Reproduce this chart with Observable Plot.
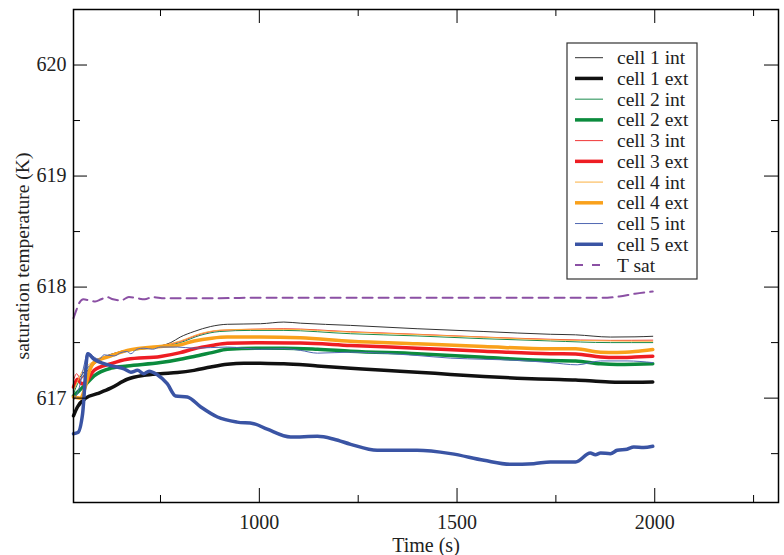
<!DOCTYPE html>
<html><head><meta charset="utf-8">
<script src="https://cdn.jsdelivr.net/npm/d3@7"></script>
<script src="https://cdn.jsdelivr.net/npm/@observablehq/plot@0.6"></script>
<style>body{margin:0;background:#fff}</style>
</head><body><div id="chart"></div>
<script>
const seriesNames = ["cell 1 int","cell 1 ext","cell 2 int","cell 2 ext","cell 3 int","cell 3 ext","cell 4 int","cell 4 ext","cell 5 int","cell 5 ext","T sat"];

const cell1Int = [[530,617.10],[545,617.18],[560,617.25],[580,617.32],[600,617.36],[650,617.42],[700,617.45],[750,617.47],[776,617.50],[800,617.55],[835,617.60],[877,617.645],[919,617.665],[1003,617.67],[1062,617.685],[1104,617.675],[1231,617.655],[1399,617.625],[1568,617.60],[1736,617.575],[1800,617.57],[1888,617.55],[1950,617.552],[1995,617.557]];
const cell1Ext = [[530,616.84],[540,616.92],[561,617.00],[590,617.04],[624,617.09],[666,617.17],[708,617.205],[750,617.22],[793,617.23],[835,617.25],[877,617.28],[919,617.305],[961,617.315],[1003,617.313],[1062,617.31],[1147,617.29],[1231,617.27],[1315,617.25],[1399,617.234],[1484,617.213],[1568,617.195],[1652,617.18],[1736,617.17],[1800,617.163],[1863,617.15],[1905,617.143],[1950,617.143],[1995,617.145]];
const cell2Int = [[530,617.04],[542,617.14],[555,617.20],[570,617.27],[590,617.33],[620,617.38],[650,617.41],[700,617.44],[750,617.46],[800,617.50],[850,617.565],[900,617.60],[978,617.61],[1062,617.61],[1231,617.58],[1399,617.56],[1568,617.535],[1736,617.515],[1888,617.50],[1995,617.50]];
const cell2Ext = [[530,617.02],[545,617.07],[560,617.12],[582,617.20],[625,617.27],[666,617.29],[750,617.32],[800,617.35],[835,617.375],[880,617.41],[919,617.44],[1000,617.45],[1062,617.45],[1147,617.44],[1231,617.423],[1399,617.40],[1568,617.369],[1652,617.35],[1736,617.339],[1800,617.335],[1863,617.309],[1905,617.303],[1950,617.305],[1995,617.309]];
const cell3Int = [[530,617.16],[538,617.22],[548,617.17],[560,617.22],[575,617.28],[595,617.34],[625,617.39],[650,617.42],[700,617.45],[750,617.47],[800,617.51],[850,617.575],[900,617.61],[978,617.62],[1062,617.625],[1231,617.598],[1399,617.575],[1568,617.55],[1736,617.53],[1888,617.52],[1995,617.522]];
const cell3Ext = [[530,617.10],[540,617.17],[550,617.13],[560,617.14],[582,617.25],[625,617.31],[666,617.35],[750,617.375],[800,617.41],[835,617.444],[880,617.475],[919,617.495],[1000,617.498],[1104,617.497],[1231,617.474],[1399,617.45],[1568,617.423],[1736,617.40],[1800,617.398],[1863,617.37],[1905,617.365],[1950,617.37],[1995,617.378]];
const cell4Int = [[530,617.07],[540,617.15],[552,617.24],[565,617.29],[590,617.35],[625,617.39],[650,617.42],[700,617.45],[750,617.47],[800,617.515],[850,617.58],[900,617.612],[978,617.62],[1062,617.62],[1231,617.594],[1399,617.572],[1568,617.548],[1736,617.525],[1888,617.515],[1995,617.512]];
const cell4Ext = [[530,617.01],[548,617.00],[558,617.08],[570,617.24],[582,617.32],[625,617.38],[666,617.43],[750,617.465],[793,617.475],[835,617.515],[880,617.54],[919,617.55],[1000,617.55],[1104,617.543],[1231,617.513],[1399,617.489],[1568,617.465],[1736,617.444],[1800,617.444],[1863,617.414],[1905,617.412],[1950,617.42],[1995,617.438]];
const cell5Int = [[530,616.98],[545,617.10],[557,617.30],[566,617.41],[582,617.37],[595,617.35],[607,617.39],[633,617.38],[650,617.41],[665,617.42],[675,617.40],[690,617.44],[708,617.45],[730,617.44],[750,617.46],[793,617.46],[835,617.45],[919,617.46],[1003,617.44],[1062,617.445],[1104,617.43],[1147,617.405],[1231,617.414],[1399,617.384],[1484,617.36],[1568,617.35],[1652,617.34],[1736,617.32],[1804,617.30],[1863,617.335],[1930,617.335],[1995,617.32]];
const cell5Ext = [[530,616.68],[541,616.69],[553,616.86],[566,617.40],[582,617.35],[607,617.31],[633,617.285],[658,617.264],[675,617.234],[692,617.25],[708,617.22],[721,617.243],[742,617.21],[767,617.13],[788,617.02],[818,617.01],[852,616.92],[894,616.83],[944,616.784],[986,616.77],[1020,616.72],[1079,616.65],[1147,616.656],[1189,616.63],[1231,616.584],[1298,616.53],[1399,616.53],[1484,616.50],[1568,616.44],[1635,616.404],[1694,616.41],[1736,616.425],[1800,616.425],[1837,616.505],[1850,616.49],[1863,616.505],[1888,616.50],[1905,616.53],[1930,616.54],[1947,616.56],[1972,616.555],[1995,616.566]];
const tSat = [[530,617.72],[538,617.80],[545,617.86],[555,617.89],[570,617.88],[585,617.87],[600,617.89],[615,617.91],[630,617.89],[650,617.88],[670,617.91],[690,617.90],[710,617.89],[730,617.91],[760,617.90],[800,617.90],[900,617.90],[1000,617.905],[1200,617.905],[1400,617.905],[1600,617.905],[1800,617.905],[1880,617.905],[1910,617.915],[1950,617.94],[1995,617.96]];

const xMajorTicks = [1000,1500,2000];
const xMinorTicks = [750,1250,1750,2250];
const yMajorTicks = [617,618,619,620];
const yMinorTicks = [616.5,617.5,618.5,619.5];

const allSeries = [cell1Int,cell1Ext,cell2Int,cell2Ext,cell3Int,cell3Ext,cell4Int,cell4Ext,cell5Int,cell5Ext,tSat];
const styles = [
  {stroke:"#333333", w:1},
  {stroke:"#111111", w:3.5},
  {stroke:"#1a8a4c", w:1},
  {stroke:"#0b8b3d", w:3.5},
  {stroke:"#f03535", w:1},
  {stroke:"#ee1d23", w:3.5},
  {stroke:"#fbb040", w:1},
  {stroke:"#f9a11b", w:3.5},
  {stroke:"#5068b2", w:1},
  {stroke:"#3a54a4", w:3.5},
  {stroke:"#8b50a4", w:2, dash:"10,6"}
];

const W = 784, H = 555, mL = 73, mR = 6, mT = 9, mB = 53;
const pw = W - mL - mR, ph = H - mT - mB;
const font = "'Liberation Serif', 'Times New Roman', serif";

const marks = [];
allSeries.forEach((s, i) => {
  marks.push(Plot.line(s, {x: d => d[0], y: d => d[1], stroke: styles[i].stroke, strokeWidth: styles[i].w, strokeDasharray: styles[i].dash, strokeLinejoin: "round", curve: "monotone-x"}));
});
// ticks (inward, mirrored)
marks.push(Plot.tickY(yMajorTicks, {y: d => d, insetRight: pw - 14, stroke: "black"}));
marks.push(Plot.tickY(yMajorTicks, {y: d => d, insetLeft: pw - 14, stroke: "black"}));
marks.push(Plot.tickY(yMinorTicks, {y: d => d, insetRight: pw - 7, stroke: "black"}));
marks.push(Plot.tickY(yMinorTicks, {y: d => d, insetLeft: pw - 7, stroke: "black"}));
marks.push(Plot.tickX(xMajorTicks, {x: d => d, insetTop: ph - 14, stroke: "black"}));
marks.push(Plot.tickX(xMajorTicks, {x: d => d, insetBottom: ph - 14, stroke: "black"}));
marks.push(Plot.tickX(xMinorTicks, {x: d => d, insetTop: ph - 7, stroke: "black"}));
marks.push(Plot.tickX(xMinorTicks, {x: d => d, insetBottom: ph - 7, stroke: "black"}));
// tick labels
marks.push(Plot.text(xMajorTicks, {x: d => d, text: d => String(d), frameAnchor: "bottom", dy: 26.5, lineAnchor: "bottom", textAnchor: "middle", fill: "#222"}));
marks.push(Plot.text(yMajorTicks, {y: d => d, text: d => String(d), frameAnchor: "left", dx: -7, textAnchor: "end", fill: "#222"}));
// axis titles
marks.push(Plot.text(["Time (s)"], {text: d => d, frameAnchor: "bottom", dy: 49, lineAnchor: "bottom", textAnchor: "middle", fill: "#222"}));
marks.push(Plot.text(["saturation temperature (K)"], {text: d => d, frameAnchor: "left", rotate: -90, dx: -44.5, lineAnchor: "bottom", textAnchor: "middle", fontSize: 19.5, fill: "#222"}));
marks.push(Plot.frame({stroke: "black", strokeWidth: 1.5}));

const svg = Plot.plot({
  width: W, height: H,
  marginLeft: mL, marginRight: mR, marginTop: mT, marginBottom: mB,
  x: {domain: [530, 2313], axis: null},
  y: {domain: [616.06, 620.5], axis: null},
  style: {fontFamily: font, fontSize: "20px", background: "white", color: "black"},
  marks
});

// legend
const lg = d3.select(svg).append("g").attr("font-family", font).attr("font-size", "19.5px").attr("text-anchor", "start");
lg.append("rect").attr("x", 567).attr("y", 43).attr("width", 130).attr("height", 236)
  .attr("fill", "white").attr("stroke", "#333").attr("stroke-width", 1.2);
seriesNames.forEach((name, i) => {
  const yy = 57.7 + i * 20.73;
  lg.append("line").attr("x1", 575).attr("x2", 603).attr("y1", yy).attr("y2", yy)
    .attr("stroke", styles[i].stroke).attr("stroke-width", styles[i].w)
    .attr("stroke-dasharray", i === 10 ? "8,9" : null);
  lg.append("text").attr("x", 617).attr("y", yy + 6.5).attr("fill", "#222").attr("text-anchor", "start").text(name);
});

document.getElementById("chart").appendChild(svg);
</script>
</body></html>
